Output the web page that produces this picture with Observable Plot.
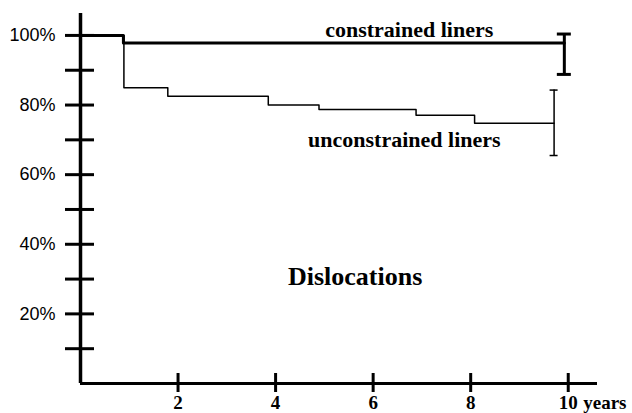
<!DOCTYPE html>
<html>
<head>
<meta charset="utf-8">
<script src="https://cdn.jsdelivr.net/npm/d3@7"></script>
<script src="https://cdn.jsdelivr.net/npm/@observablehq/plot@0.6"></script>
<style>
  html, body { margin: 0; padding: 0; background: #fff; }
  #chart svg { display: block; background: #fff; overflow: visible; }
</style>
</head>
<body>
<div id="chart"></div>
<script>
// Kaplan–Meier style survival (free of dislocation), percent vs years
const constrainedYears = [0, 0.88, 9.92];
const constrainedPct   = [100, 97.8, 97.8];
const unconstrainedYears = [0, 0.89, 1.79, 3.85, 4.89, 6.88, 8.08, 9.71];
const unconstrainedPct   = [100, 85.0, 82.5, 80.0, 78.7, 77.1, 74.8, 74.8];
// confidence intervals at last follow-up
const ciSeries = ["constrained", "unconstrained"];
const ciYears  = [9.92, 9.71];
const ciLow    = [88.8, 65.5];
const ciHigh   = [100.4, 84.3];
// ticks
const xTicks = [2, 4, 6, 8, 10];
const yTicks = [10, 20, 30, 40, 50, 60, 70, 80, 90, 100];
const yLabelled = [20, 40, 60, 80, 100];
const seriesLabels = ["constrained liners", "unconstrained liners"];
const chartTitle = "Dislocations";
const xUnit = "years";

const constrained = constrainedYears.map((t, i) => ({t, p: constrainedPct[i]}));
const unconstrained = unconstrainedYears.map((t, i) => ({t, p: unconstrainedPct[i]}));
const ci = ciSeries.map((s, i) => ({s, t: ciYears[i], lo: ciLow[i], hi: ciHigh[i]}));

const xMax = 10.6, yMax = 106.3;
const serif = "'Liberation Serif', 'Times New Roman', serif";
const sans = "'Liberation Sans', Arial, sans-serif";
const xTickPad = 3, xFont = 19;

const chart = Plot.plot({
  width: 632,
  height: 413,
  marginLeft: 80,
  marginRight: 35,
  marginTop: 13,
  marginBottom: 30,
  x: {domain: [0, xMax], label: null},
  y: {domain: [0, yMax], label: null},
  marks: [
    // axis lines
    Plot.ruleX([0], {y1: 0, y2: yMax, stroke: "#000", strokeWidth: 3.5}),
    Plot.ruleY([0], {x1: 0, x2: xMax, stroke: "#000", strokeWidth: 3}),
    Plot.axisY({
      ticks: yTicks, tickSize: 29, dx: 14, tickPadding: 10, strokeWidth: 3,
      tickFormat: d => yLabelled.includes(d) ? d + "%" : "",
      fontFamily: sans, fontSize: 18, fill: "#000", stroke: "#000", label: null
    }),
    Plot.axisX({
      ticks: xTicks, tickSize: 19, dy: -10, tickPadding: xTickPad, strokeWidth: 3,
      tickFormat: d => String(d),
      fontFamily: serif, fontSize: xFont, fontWeight: "bold", fill: "#000", stroke: "#000", label: null
    }),
    Plot.text([xUnit], {x: () => 10, y: 0, text: d => d, dx: 15, dy: 9 + xTickPad, lineAnchor: "top", textAnchor: "start",
      fontFamily: serif, fontSize: xFont, fontWeight: "bold", fill: "#000"}),
    // curves
    Plot.line(unconstrained, {x: "t", y: "p", curve: "step-after", stroke: "#000", strokeWidth: 1.5}),
    Plot.line(constrained, {x: "t", y: "p", curve: "step-after", stroke: "#000", strokeWidth: 3}),
    // CI bars
    Plot.ruleX(ci, {x: "t", y1: "lo", y2: "hi", stroke: "#000", strokeWidth: d => d.s === "constrained" ? 3 : 1.5}),
    Plot.ruleY(ci.filter(d => d.s === "constrained"), {y: "hi", x1: "t", x2: "t", insetLeft: -7, insetRight: -7, stroke: "#000", strokeWidth: 3}),
    Plot.ruleY(ci.filter(d => d.s === "constrained"), {y: "lo", x1: "t", x2: "t", insetLeft: -7, insetRight: -7, stroke: "#000", strokeWidth: 3}),
    Plot.ruleY(ci.filter(d => d.s === "unconstrained"), {y: "hi", x1: "t", x2: "t", insetLeft: -4, insetRight: -4, stroke: "#000", strokeWidth: 1.5}),
    Plot.ruleY(ci.filter(d => d.s === "unconstrained"), {y: "lo", x1: "t", x2: "t", insetLeft: -4, insetRight: -4, stroke: "#000", strokeWidth: 1.5}),
    // labels
    Plot.text([seriesLabels[0]], {x: () => 6.74, y: () => 101.7, text: d => d, fontFamily: serif, fontSize: 22, fontWeight: "bold", fill: "#000"}),
    Plot.text([seriesLabels[1]], {x: () => 6.64, y: () => 70.1, text: d => d, fontFamily: serif, fontSize: 22, fontWeight: "bold", fill: "#000"}),
    Plot.text([chartTitle], {x: () => 5.63, y: () => 30.8, text: d => d, fontFamily: serif, fontSize: 26, fontWeight: "bold", fill: "#000"})
  ]
});
document.getElementById("chart").appendChild(chart);
</script>
</body>
</html>
